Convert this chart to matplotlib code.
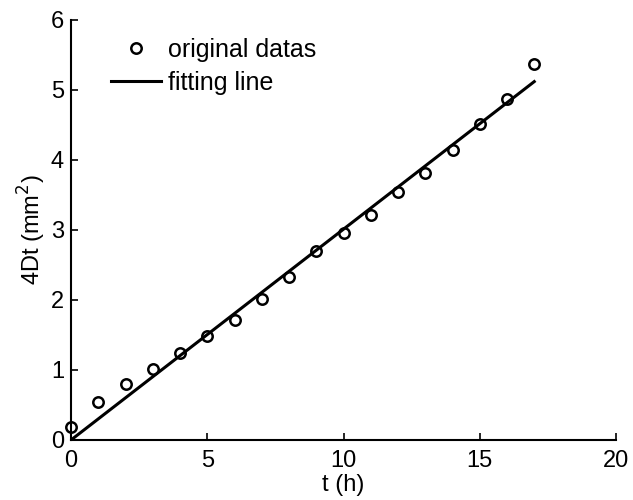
import matplotlib
matplotlib.use("Agg")
import matplotlib.pyplot as plt

plt.rcParams['font.family'] = ['Liberation Sans', 'DejaVu Sans']

# measured data
t = [0, 1, 2, 3, 4, 5, 6, 7, 8, 9, 10, 11, 12, 13, 14, 15, 16, 17]
d4t = [0.19, 0.55, 0.80, 1.01, 1.25, 1.49, 1.72, 2.01, 2.33, 2.70,
       2.96, 3.22, 3.54, 3.82, 4.14, 4.52, 4.87, 5.37]

# fitted line end points
t_fit = [0, 17]
d4t_fit = [0, 5.12]

fig = plt.figure(figsize=(6.33, 5), dpi=100)
ax = fig.add_axes([71 / 633, 60 / 500, 545 / 633, 420 / 500])

ax.plot(t, d4t, 'o', color='black', markerfacecolor='none',
        markersize=7.5, markeredgewidth=1.8, clip_on=False, label='original datas')
ax.plot(t_fit, d4t_fit, '-', color='black', linewidth=2.2, label='fitting line')

ax.set_xlim(0, 20)
ax.set_ylim(0, 6)
ax.set_xticks([0, 5, 10, 15, 20])
ax.set_yticks([0, 1, 2, 3, 4, 5, 6])

ax.spines['top'].set_visible(False)
ax.spines['right'].set_visible(False)
for s in ['left', 'bottom']:
    ax.spines[s].set_linewidth(1.5)
ax.tick_params(direction='in', length=5, width=1.2, labelsize=17)
ax.tick_params(axis='x', pad=7)
ax.tick_params(axis='y', pad=5)

ax.set_xlabel('t (h)', fontsize=17, labelpad=2)
ax.set_ylabel('4Dt (mm$^2$)', fontsize=17, labelpad=2)

ax.legend(loc='upper left', bbox_to_anchor=(0.073, 0.957), frameon=False,
          fontsize=18, borderpad=0, borderaxespad=0, handlelength=2.0,
          handletextpad=0.3, labelspacing=0.35, numpoints=1)

fig.savefig('out.png', dpi=100)
